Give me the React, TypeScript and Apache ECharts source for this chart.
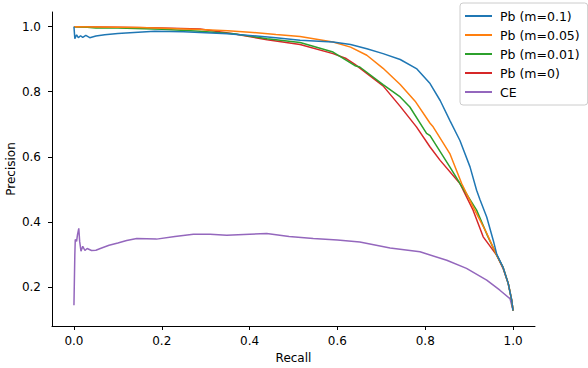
import React, { useEffect, useRef } from "react";
import * as echarts from "echarts";

const seriesNames = ["Pb (m=0.1)", "Pb (m=0.05)", "Pb (m=0.01)", "Pb (m=0)", "CE"];
const seriesColors = ["#1f77b4", "#ff7f0e", "#2ca02c", "#d62728", "#9467bd"];

const xTicks = [0.0, 0.2, 0.4, 0.6, 0.8, 1.0];
const yTicks = [0.2, 0.4, 0.6, 0.8, 1.0];

const xTitle = "Recall";
const yTitle = "Precision";

// [recall, precision]
const pbM01: number[][] = [
  [0, 1.0], [0.002, 0.963], [0.006, 0.975], [0.01, 0.966], [0.015, 0.972], [0.02, 0.967],
  [0.027, 0.973], [0.036, 0.966], [0.05, 0.971], [0.07, 0.975], [0.1, 0.979], [0.146, 0.983],
  [0.184, 0.986], [0.25, 0.984], [0.287, 0.982], [0.35, 0.978], [0.4, 0.973], [0.46, 0.966],
  [0.515, 0.958], [0.59, 0.953], [0.63, 0.945], [0.667, 0.932], [0.704, 0.917], [0.743, 0.899],
  [0.78, 0.871], [0.811, 0.825], [0.834, 0.773], [0.856, 0.712], [0.879, 0.65], [0.902, 0.569],
  [0.917, 0.497], [0.925, 0.467], [0.94, 0.415], [0.955, 0.343], [0.963, 0.3], [0.977, 0.261],
  [0.989, 0.211], [0.997, 0.159], [1.0, 0.127],
];

const pbM005: number[][] = [
  [0, 1.0], [0.05, 0.999], [0.1, 0.998], [0.15, 0.997], [0.2, 0.995], [0.287, 0.991],
  [0.35, 0.987], [0.4, 0.983], [0.46, 0.976], [0.515, 0.97], [0.59, 0.953], [0.63, 0.937],
  [0.667, 0.912], [0.704, 0.872], [0.743, 0.822], [0.777, 0.771], [0.811, 0.703], [0.818, 0.692],
  [0.856, 0.61], [0.883, 0.518], [0.909, 0.446], [0.94, 0.365], [0.963, 0.297], [0.977, 0.261],
  [0.989, 0.211], [0.997, 0.159], [1.0, 0.127],
];

const pbM001: number[][] = [
  [0, 1.0], [0.03, 0.998], [0.05, 0.996], [0.1, 0.996], [0.2, 0.992], [0.287, 0.986],
  [0.363, 0.978], [0.44, 0.963], [0.515, 0.951], [0.59, 0.922], [0.64, 0.88], [0.651, 0.876],
  [0.704, 0.822], [0.743, 0.784], [0.765, 0.753], [0.803, 0.672], [0.811, 0.665], [0.856, 0.569],
  [0.879, 0.518], [0.917, 0.436], [0.943, 0.354], [0.963, 0.297], [0.977, 0.261], [0.989, 0.211],
  [0.997, 0.159], [1.0, 0.127],
];

const pbM0: number[][] = [
  [0, 1.0], [0.05, 0.999], [0.1, 0.998], [0.2, 0.996], [0.287, 0.993], [0.363, 0.978],
  [0.44, 0.96], [0.515, 0.945], [0.59, 0.917], [0.62, 0.902], [0.64, 0.884], [0.704, 0.818],
  [0.743, 0.755], [0.78, 0.692], [0.811, 0.63], [0.834, 0.589], [0.879, 0.518], [0.909, 0.436],
  [0.932, 0.354], [0.963, 0.297], [0.977, 0.258], [0.989, 0.211], [0.997, 0.159], [1.0, 0.127],
];

const ce: number[][] = [
  [0, 0.144], [0.002, 0.3], [0.003, 0.346], [0.006, 0.34], [0.008, 0.36], [0.011, 0.38],
  [0.013, 0.34], [0.016, 0.31], [0.02, 0.325], [0.025, 0.312], [0.03, 0.318], [0.04, 0.312],
  [0.05, 0.313], [0.06, 0.318], [0.08, 0.328], [0.1, 0.335], [0.12, 0.343], [0.143, 0.349],
  [0.188, 0.347], [0.23, 0.355], [0.272, 0.362], [0.31, 0.362], [0.348, 0.359], [0.4, 0.362],
  [0.439, 0.364], [0.49, 0.355], [0.545, 0.349], [0.6, 0.344], [0.651, 0.338], [0.72, 0.32],
  [0.788, 0.308], [0.849, 0.282], [0.894, 0.257], [0.94, 0.221], [0.97, 0.19], [0.993, 0.164],
  [1.0, 0.128],
];

const seriesData = [pbM01, pbM005, pbM001, pbM0, ce];

export default function App() {
  const ref = useRef<HTMLDivElement>(null);
  useEffect(() => {
    if (!ref.current) return;
    const chart = echarts.init(ref.current, null, { renderer: "svg" });
    const font = "DejaVu Sans";
    chart.setOption({
      animation: false,
      backgroundColor: "#ffffff",
      grid: { left: 52, right: 53, top: 12, bottom: 42, containLabel: false, outerBoundsMode: "none" },
      graphic: [
        {
          type: "text",
          x: 11,
          y: 169,
          rotation: Math.PI / 2,
          style: {
            text: yTitle,
            fontFamily: font,
            fontSize: 12,
            fill: "#000",
            textAlign: "center",
            textVerticalAlign: "middle",
          },
        },
      ],
      legend: {
        show: true,
        orient: "vertical",
        left: 460,
        top: 3,
        padding: [6, 8, 6, 5],
        itemGap: 5,
        itemWidth: 27,
        itemHeight: 2,
        icon: "rect",
        borderColor: "#cccccc",
        borderWidth: 1,
        borderRadius: 3,
        backgroundColor: "rgba(255,255,255,0.8)",
        textStyle: { fontFamily: font, fontSize: 12.5, color: "#000", lineHeight: 14, padding: [0, 0, 0, 3] },
        data: seriesNames,
      },
      xAxis: {
        type: "value",
        min: -0.05,
        max: 1.05,
        name: xTitle,
        nameLocation: "middle",
        nameGap: 25,
        nameTextStyle: { fontFamily: font, fontSize: 12, color: "#000" },
        axisLine: { show: true, onZero: false, lineStyle: { color: "#000", width: 1 } },
        axisTick: { show: true, length: 4, customValues: xTicks, lineStyle: { color: "#000" } },
        axisLabel: {
          customValues: xTicks,
          formatter: (v: number) => v.toFixed(1),
          fontFamily: font,
          fontSize: 12,
          color: "#000",
          margin: 9,
        },
        splitLine: { show: false },
      },
      yAxis: {
        type: "value",
        min: 0.08,
        max: 1.045,
        axisLine: { show: true, onZero: false, lineStyle: { color: "#000", width: 1 } },
        axisTick: { show: true, length: 4, customValues: yTicks, lineStyle: { color: "#000" } },
        axisLabel: {
          customValues: yTicks,
          formatter: (v: number) => v.toFixed(1),
          fontFamily: font,
          fontSize: 12,
          color: "#000",
          margin: 11,
        },
        splitLine: { show: false },
      },
      series: seriesNames.map((n, i) => ({
        name: n,
        type: "line",
        data: seriesData[i],
        showSymbol: false,
        symbol: "none",
        lineStyle: { color: seriesColors[i], width: 1.5 },
        itemStyle: { color: seriesColors[i] },
        z: 10 - i,
      })),
    });
    return () => chart.dispose();
  }, []);
  return (
    <div
      ref={ref}
      style={{ position: "absolute", left: 0, top: 0, width: 588, height: 368 }}
    />
  );
}
